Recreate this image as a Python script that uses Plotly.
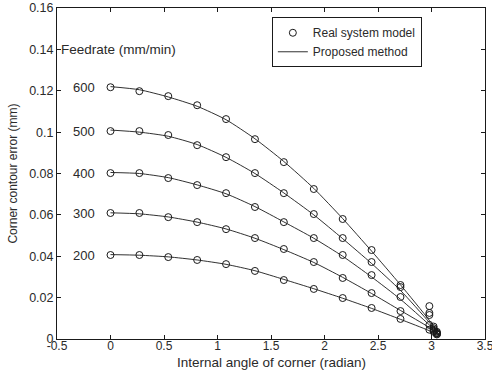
import plotly.graph_objects as go

# Internal angle of corner (radian)
angles = [0.0, 0.27, 0.54, 0.81, 1.08, 1.35, 1.62, 1.90, 2.17, 2.44, 2.71, 2.98, 3.02, 3.05]
feedrates = ["600", "500", "400", "300", "200"]

# Real system model (circles), mm
real_600 = [0.1217, 0.1198, 0.1174, 0.1130, 0.1063, 0.0966, 0.0855, 0.0725, 0.0580, 0.0430, 0.0261, 0.0159, 0.0060, 0.0035]
real_500 = [0.1005, 0.1005, 0.0986, 0.0937, 0.0879, 0.0802, 0.0705, 0.0604, 0.0488, 0.0372, 0.0251, 0.0126, 0.0052, 0.0030]
real_400 = [0.0802, 0.0802, 0.0778, 0.0744, 0.0705, 0.0638, 0.0565, 0.0488, 0.0406, 0.0309, 0.0203, 0.0116, 0.0045, 0.0028]
real_300 = [0.0609, 0.0609, 0.0589, 0.0565, 0.0531, 0.0488, 0.0435, 0.0372, 0.0295, 0.0222, 0.0135, 0.0068, 0.0040, 0.0025]
real_200 = [0.0406, 0.0406, 0.0396, 0.0382, 0.0362, 0.0329, 0.0285, 0.0242, 0.0198, 0.0150, 0.0097, 0.0045, 0.0035, 0.0022]

# Proposed method (lines), mm
line_angles = [0.0, 0.27, 0.54, 0.81, 1.08, 1.35, 1.62, 1.90, 2.17, 2.44, 2.71, 2.98, 3.08]
prop_600 = [0.1220, 0.1205, 0.1170, 0.1125, 0.1060, 0.0968, 0.0858, 0.0728, 0.0582, 0.0425, 0.0262, 0.0090, 0.0015]
prop_500 = [0.1010, 0.1000, 0.0980, 0.0940, 0.0878, 0.0800, 0.0706, 0.0600, 0.0485, 0.0365, 0.0235, 0.0080, 0.0015]
prop_400 = [0.0805, 0.0800, 0.0780, 0.0745, 0.0702, 0.0640, 0.0566, 0.0487, 0.0400, 0.0300, 0.0192, 0.0068, 0.0015]
prop_300 = [0.0610, 0.0605, 0.0590, 0.0565, 0.0532, 0.0487, 0.0432, 0.0370, 0.0298, 0.0220, 0.0138, 0.0055, 0.0015]
prop_200 = [0.0408, 0.0405, 0.0397, 0.0382, 0.0361, 0.0330, 0.0288, 0.0243, 0.0197, 0.0148, 0.0095, 0.0040, 0.0015]

real_sets = [real_600, real_500, real_400, real_300, real_200]
prop_sets = [prop_600, prop_500, prop_400, prop_300, prop_200]

x_ticks = [-0.5, 0, 0.5, 1, 1.5, 2, 2.5, 3, 3.5]
x_tick_text = ["-0.5", "0", "0.5", "1", "1.5", "2", "2.5", "3", "3.5"]
y_ticks = [0, 0.02, 0.04, 0.06, 0.08, 0.1, 0.12, 0.14, 0.16]
y_tick_text = ["0", "0.02", "0.04", "0.06", "0.08", "0.1", "0.12", "0.14", "0.16"]

ink = "#1a1a1a"
txt = "#2a2a2a"
font = "Liberation Sans, Arial, sans-serif"

fig = go.Figure()
for i, (fr, ys) in enumerate(zip(feedrates, prop_sets)):
    fig.add_trace(go.Scatter(
        x=line_angles, y=ys, mode="lines", line=dict(color=ink, width=0.9, shape="spline", smoothing=0.6),
        name="Proposed method", showlegend=(i == 0), legendrank=2))
for i, (fr, ys) in enumerate(zip(feedrates, real_sets)):
    fig.add_trace(go.Scatter(
        x=angles, y=ys, mode="markers",
        marker=dict(symbol="circle-open", size=7, color=ink, line=dict(width=1, color=ink)),
        name="Real system model", showlegend=(i == 0), legendrank=1))

# Feedrate labels
fig.add_annotation(x=-0.48, y=0.14, text="Feedrate (mm/min)", showarrow=False, xanchor="left",
                   font=dict(family=font, size=13.5, color=txt))
for fr, ys in zip(feedrates, real_sets):
    fig.add_annotation(x=-0.25, y=ys[0], text=fr, showarrow=False,
                       font=dict(family=font, size=13, color=txt))

# Axis titles
fig.add_annotation(xref="paper", yref="paper", x=0.5, y=-0.072, yanchor="middle",
                   text="Internal angle of corner (radian)", showarrow=False,
                   font=dict(family=font, size=13.5, color=txt))
fig.add_annotation(xref="paper", yref="paper", x=-0.105, y=0.5, xanchor="center", yanchor="middle",
                   textangle=-90, text="Corner contour error (mm)", showarrow=False,
                   font=dict(family=font, size=12, color=txt))

common = dict(ticks="inside", ticklen=4, tickcolor=ink, showline=True, linecolor=ink, linewidth=1,
              mirror="allticks", showgrid=False, zeroline=False, automargin=False)
fig.update_xaxes(range=[-0.5, 3.5], tickvals=x_ticks, ticktext=x_tick_text,
                 ticklabeloverflow="allow", ticklabelstandoff=-4,
                 tickfont=dict(family=font, size=12, color=txt), **common)
fig.update_yaxes(range=[0, 0.16], tickvals=y_ticks, ticktext=y_tick_text,
                 tickfont=dict(family=font, size=12.5, color=txt), **common)

fig.update_layout(
    width=492, height=372,
    margin=dict(l=57, r=7, t=8, b=33),
    plot_bgcolor="white", paper_bgcolor="white",
    showlegend=True,
    legend=dict(x=0.502, y=0.972, xanchor="left", yanchor="top",
                bordercolor=ink, borderwidth=1, bgcolor="white",
                font=dict(family=font, size=12, color=txt),
                tracegroupgap=0, itemwidth=30),
)

fig.write_html("out.html", config={"displayModeBar": False},
               post_script="document.body.style.margin='0px';document.body.style.overflow='hidden';")
